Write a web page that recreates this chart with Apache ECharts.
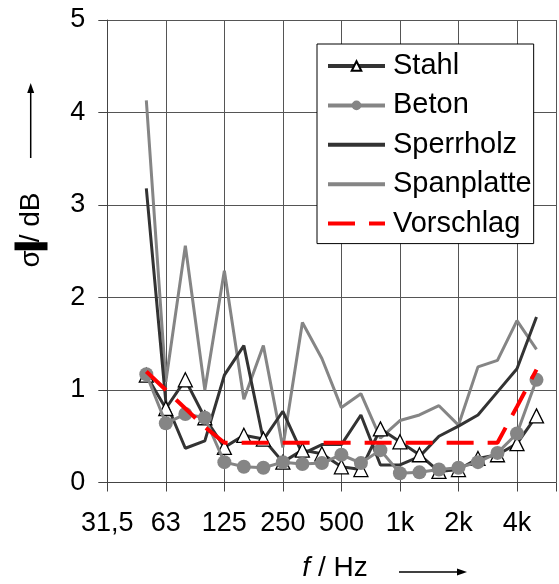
<!DOCTYPE html>
<html>
<head>
<meta charset="utf-8">
<script src="https://cdn.jsdelivr.net/npm/echarts@6/dist/echarts.min.js"></script>
<style>
  html, body { margin: 0; padding: 0; background: #fff; }
  #chart { width: 559px; height: 584px; }
</style>
</head>
<body>
<div id="chart"></div>
<script>
// Third-octave band centres, 31.5 Hz .. 6.3 kHz (axis positions are band indices)
const bands = ['31,5','40','50','63','80','100','125','160','200','250','315','400','500','630','800','1k','1,25k','1,6k','2k','2,5k','3,15k','4k','5k','6,3k'];
// Octave tick labels every third band
const tickLabels = ['31,5','63','125','250','500','1k','2k','4k'];
// Measured bands: 50 Hz .. 5 kHz
const measuredBands = bands.slice(2, 23);

// Standard deviation sigma in dB per band
const stahl      = [1.16, 0.80, 1.11, 0.70, 0.38, 0.51, 0.47, 0.22, 0.35, 0.31, 0.17, 0.14, 0.58, 0.44, 0.30, 0.12, 0.14, 0.26, 0.30, 0.42, 0.72];
const beton      = [1.17, 0.64, 0.74, 0.70, 0.22, 0.17, 0.16, 0.22, 0.20, 0.21, 0.30, 0.21, 0.35, 0.10, 0.11, 0.14, 0.16, 0.22, 0.32, 0.53, 1.11];
const sperrholz  = [3.18, 0.87, 0.37, 0.45, 1.16, 1.48, 0.46, 0.77, 0.31, 0.41, 0.41, 0.73, 0.19, 0.19, 0.28, 0.50, 0.61, 0.73, 0.98, 1.23, 1.79];
const spanplatte = [4.13, 1.09, 2.56, 1.00, 2.29, 0.90, 1.48, 0.38, 1.73, 1.34, 0.81, 0.96, 0.48, 0.67, 0.73, 0.83, 0.62, 1.25, 1.32, 1.75, 1.44];
const vorschlag  = [1.20, 1.00, 0.80, 0.60, 0.43, 0.43, 0.43, 0.43, 0.43, 0.43, 0.43, 0.43, 0.43, 0.43, 0.43, 0.43, 0.43, 0.43, 0.43, 0.82, 1.22];

const toPairs = vals => measuredBands.map((b, i) => [bands.indexOf(b), vals[i]]);

const FONT = '"Liberation Sans", Arial, sans-serif';
const DARK = '#333333';
const GREY = '#858585';

const chart = echarts.init(document.getElementById('chart'), null, { renderer: 'canvas' });

// plain-line legend entries: hide the marker, keep the line
const lineOnly = name => ({ name, itemStyle: { opacity: 0 } });

chart.setOption({
  animation: false,
  backgroundColor: '#ffffff',
  textStyle: { fontFamily: FONT, color: '#000' },
  grid: { left: 107.3, right: 0, top: 20, bottom: 101.5, containLabel: false },
  xAxis: {
    type: 'value',
    min: 0,
    max: bands.length - 1,
    interval: 3,
    axisLine: { show: true, lineStyle: { color: '#444', width: 1 } },
    axisTick: { show: true, length: 9, lineStyle: { color: '#444' } },
    axisLabel: {
      margin: 28,
      fontSize: 27,
      fontFamily: FONT,
      color: '#000',
      formatter: v => (v % 3 === 0 && v / 3 < tickLabels.length ? tickLabels[v / 3] : '')
    },
    splitLine: { show: true, lineStyle: { color: '#555', width: 1 } }
  },
  yAxis: {
    type: 'value',
    min: 0,
    max: 5,
    interval: 1,
    axisLine: { show: true, lineStyle: { color: '#444', width: 1 } },
    axisTick: { show: true, length: 9, lineStyle: { color: '#444' } },
    axisLabel: { margin: 22, fontSize: 27, fontFamily: FONT, color: '#000' },
    splitLine: { show: true, lineStyle: { color: '#555', width: 1 } }
  },
  legend: {
    orient: 'vertical',
    left: 317,
    top: 44,
    padding: [7, 2, 5, 9],
    backgroundColor: '#fff',
    borderColor: '#000',
    borderWidth: 1,
    borderRadius: 0,
    itemWidth: 57,
    itemHeight: 12,
    itemGap: 9.4,
    lineStyle: { width: 4 },
    data: ['Stahl', 'Beton', lineOnly('Sperrholz'), lineOnly('Spanplatte'), lineOnly('Vorschlag')],
    textStyle: { fontSize: 29, lineHeight: 30, fontFamily: FONT, color: '#000', padding: [0, 0, 0, 3] }
  },
  series: [
    {
      name: 'Spanplatte', type: 'line', z: 2, data: toPairs(spanplatte),
      symbol: 'none', lineStyle: { color: GREY, width: 3 }, itemStyle: { color: GREY }
    },
    {
      name: 'Sperrholz', type: 'line', z: 3, data: toPairs(sperrholz),
      symbol: 'none', lineStyle: { color: DARK, width: 3 }, itemStyle: { color: DARK }
    },
    {
      name: 'Stahl', type: 'line', z: 4, data: toPairs(stahl),
      symbol: 'triangle', symbolSize: 14, showAllSymbol: true,
      lineStyle: { color: DARK, width: 3 },
      itemStyle: { color: '#fff', borderColor: '#000', borderWidth: 1.3 }
    },
    {
      name: 'Beton', type: 'line', z: 5, data: toPairs(beton),
      symbol: 'circle', symbolSize: 14, showAllSymbol: true,
      lineStyle: { color: GREY, width: 3 },
      itemStyle: { color: GREY, borderColor: GREY, borderWidth: 0 }
    },
    {
      name: 'Vorschlag', type: 'line', z: 6, data: toPairs(vorschlag),
      symbol: 'none',
      lineStyle: { color: '#ff0000', width: 4, type: [27, 14] },
      itemStyle: { color: '#ff0000' }
    }
  ],
  graphic: [
    // y-axis title with upward arrow
    {
      type: 'text', x: 31, y: 230, rotation: Math.PI / 2,
      style: {
        text: '{s|σ}{b|}{s|/ dB}',
        rich: {
          s: { fontSize: 28, fontFamily: FONT, fill: '#000', verticalAlign: 'middle' },
          b: { width: 8, height: 33, backgroundColor: '#000', verticalAlign: 'middle' }
        },
        align: 'center', verticalAlign: 'middle'
      }
    },
    { type: 'line', shape: { x1: 30.7, y1: 158, x2: 30.7, y2: 90 }, style: { stroke: '#000', lineWidth: 1.5 } },
    { type: 'polygon', shape: { points: [[30.7, 83], [27.2, 93], [34.2, 93]] }, style: { fill: '#000' } },
    // x-axis title with arrow to the right
    {
      type: 'text', x: 335, y: 568,
      style: {
        text: '{i|f} / Hz',
        rich: {
          i: { fontSize: 28, fontStyle: 'italic', fontFamily: FONT, fill: '#000' }
        },
        fontSize: 28, fontFamily: FONT, fill: '#000',
        align: 'center', verticalAlign: 'middle'
      }
    },
    { type: 'line', shape: { x1: 399, y1: 572, x2: 460, y2: 572 }, style: { stroke: '#000', lineWidth: 1.5 } },
    { type: 'polygon', shape: { points: [[467, 572], [457, 568.5], [457, 575.5]] }, style: { fill: '#000' } }
  ]
});
</script>
</body>
</html>
